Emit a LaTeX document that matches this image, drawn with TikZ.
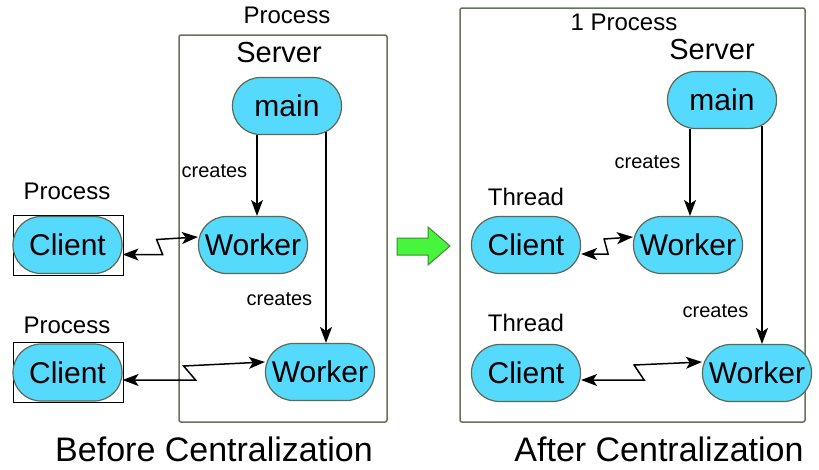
\documentclass[tikz,border=0pt]{standalone}
\usepackage{fontspec}
\setmainfont{Liberation Sans}
\usetikzlibrary{positioning, arrows.meta}
\definecolor{pillblue}{RGB}{85,218,253}
\definecolor{pillline}{RGB}{95,105,80}
\definecolor{frameline}{RGB}{100,115,90}
\definecolor{gogreen}{RGB}{70,245,60}
\definecolor{goline}{RGB}{60,140,50}
\begin{document}
\begin{tikzpicture}[x=1pt, y=-1pt, ->, >={Stealth[length=16pt,width=12pt,inset=4pt]}, line width=1.5pt]
	\tikzstyle{pill}=[draw=pillline, fill=pillblue, line width=1.2pt, rounded corners=28pt, minimum width=109pt, minimum height=57pt, inner sep=0pt, font=\fontsize{30}{36}\selectfont]
	\tikzstyle{frame}=[draw=frameline, line width=1.5pt, rounded corners=2pt, inner sep=0pt]
	\tikzstyle{clientframe}=[draw=black, line width=1pt, minimum width=110pt, minimum height=60pt, inner sep=0pt]
	\tikzstyle{caption}=[font=\fontsize{24}{28}\selectfont]
	\tikzstyle{title}=[font=\fontsize{29}{34}\selectfont]
	\tikzstyle{small}=[font=\fontsize{20}{24}\selectfont, inner sep=9pt]
	\tikzstyle{big}=[font=\fontsize{34}{40}\selectfont, inner sep=0pt]
	\useasboundingbox (0,0) rectangle (819,469);

	% before centralization
	\node[frame, minimum width=208pt, minimum height=387pt] (srvL) at (283,228.5) {};
	\node[caption]  (procL)  at (287,15)   {Process};
	\node[title]    (nameL)  at (279,53)   {Server};
	\node[pill]     (mainL)  at (287,106)  {main};
	\node[pill]     (W1L)    at (253,245)  {Worker};
	\node[pill]     (W2L)    at (320,372)  {Worker};
	\node[clientframe] (boxC1) at (68,245) {};
	\node[clientframe] (boxC2) at (68,372.5) {};
	\node[pill]     (C1L)    at (67.5,245)   {Client};
	\node[pill]     (C2L)    at (67.5,372.5) {Client};
	\node[caption]  (procC1) at (67,191)   {Process};
	\node[caption]  (procC2) at (67,325)   {Process};
	\draw ([xshift=-30pt]mainL.south) -- ([xshift=-30pt]mainL.south |- W1L.north)
		node[small, left, pos=0.44] {creates};
	\draw ([xshift=39pt,yshift=3pt]mainL.south) -- ([xshift=39pt]mainL.south |- W2L.north)
		node[small, left, pos=0.79, xshift=-4pt] {creates};
	\draw[<->] ([yshift=-9.5pt]C1L.east) -- ++(40,0) -- ++(-6,-15) -- ([yshift=8pt]W1L.west);
	\draw[<->] ([yshift=-7.5pt]C2L.east) -- ++(73,0) -- ++(-12,-14) -- ([yshift=10pt]W2L.west);
	\node[big] (before) at (214,449.5) {Before Centralization};

	% the step between them
	\draw[-, fill=gogreen, draw=goline, line width=1pt]
		(397,238) -- (428,238) -- (428,227) -- (450,246) -- (428,265) -- (428,255) -- (397,255) -- cycle;

	% after centralization
	\node[frame, minimum width=345pt, minimum height=414pt] (srvR) at (632.5,215) {};
	\node[caption]  (procR)  at (624,22)   {1 Process};
	\node[title]    (nameR)  at (712,50)   {Server};
	\node[pill]     (mainR)  at (722,100)  {main};
	\node[pill]     (W1R)    at (688,245)  {Worker};
	\node[pill]     (W2R)    at (757,373)  {Worker};
	\node[pill]     (C1R)    at (526,245)  {Client};
	\node[pill]     (C2R)    at (526,373)  {Client};
	\node[caption]  (thrC1)  at (526,197)  {Thread};
	\node[caption]  (thrC2)  at (526,323)  {Thread};
	\draw ([xshift=-32pt]mainR.south) -- ([xshift=-32pt]mainR.south |- W1R.north)
		node[small, left, pos=0.38] {creates};
	\draw ([xshift=40pt,yshift=3pt]mainR.south) -- ([xshift=40pt]mainR.south |- W2R.north)
		node[small, left, pos=0.85, xshift=-4pt] {creates};
	\draw[<->] ([yshift=-9pt]C1R.east) -- ++(27,0) -- ++(-4,-15) -- ([yshift=8pt]W1R.west);
	\draw[<->] ([yshift=-7pt]C2R.east) -- ++(63,0) -- ++(-10,-15) -- ([yshift=11pt]W2R.west);
	\node[big] (after) at (659,449.5) {After Centralization};
\end{tikzpicture}
\end{document}
